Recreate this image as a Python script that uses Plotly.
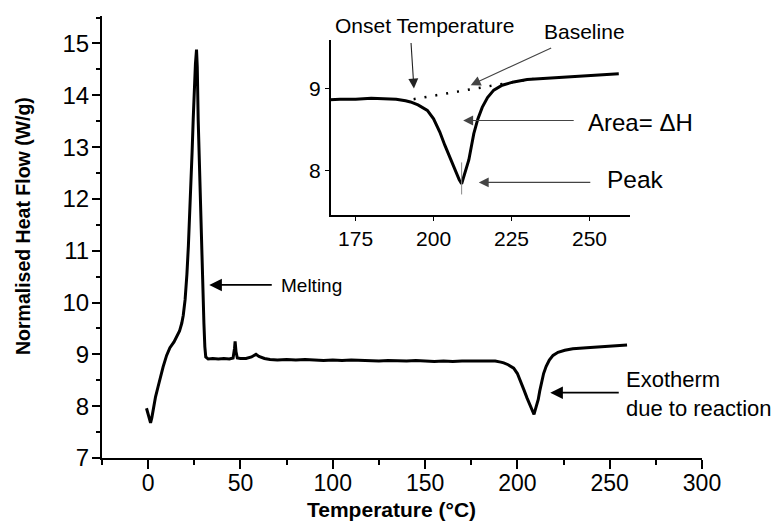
import plotly.graph_objects as go

# ---------------- data ----------------
temperature = [-0.9, 1.3, 2.0, 2.7, 4.0, 5.4, 6.8, 8.1, 10.0, 11.8, 14.0, 15.4, 17.0, 18.2, 19.0,
               20.0, 20.6, 21.0, 21.8, 22.5, 23.1, 23.8, 24.4, 25.0, 25.6, 26.2, 26.6, 27.1, 27.6, 28.0,
               28.8, 29.5, 30.2, 30.7, 31.2, 32.5, 35.0, 38.0, 41.0, 44.0, 46.0, 46.8, 47.1,
               47.6, 48.3, 50.0, 53.0, 56.0, 58.4, 60.0, 63.0, 66.0, 70.0, 75.0, 80.0, 85.0,
               90.0, 95.0, 100.0, 105.0, 110.0, 115.0, 120.0, 125.0, 130.0, 135.0, 140.0,
               145.0, 150.0, 155.0, 160.0, 165.0, 170.0, 175.0, 180.0, 184.1, 188.0, 191.0,
               192.6, 195.0, 198.0, 200.0, 202.0, 203.6, 205.2, 207.0, 208.2, 209.0, 209.6,
               210.4, 211.3, 212.1, 212.9, 214.2, 215.6, 217.3, 219.3, 222.0, 225.7, 230.0,
               237.5, 245.0, 252.0, 259.4]
heat_flow = [7.96, 7.68, 7.78, 7.93, 8.18, 8.38, 8.60, 8.76, 8.98, 9.13, 9.24, 9.33, 9.45, 9.6, 9.75,
             10.05, 10.3, 10.55, 11.1, 11.65, 12.24, 12.9, 13.53, 14.15, 14.6, 14.88, 14.55, 13.53, 12.8, 12.24,
             11.2, 10.31, 9.6, 9.15, 8.95, 8.91, 8.92, 8.91, 8.92, 8.91, 8.93, 9.12, 9.25,
             9.05, 8.93, 8.92, 8.92, 8.95, 9.0, 8.96, 8.92, 8.9, 8.89, 8.9, 8.89, 8.9,
             8.89, 8.88, 8.89, 8.88, 8.89, 8.88, 8.88, 8.87, 8.88, 8.87, 8.87,
             8.88, 8.87, 8.86, 8.87, 8.86, 8.87, 8.87, 8.88, 8.877, 8.87, 8.85,
             8.836, 8.80, 8.734, 8.63, 8.47, 8.31, 8.16, 7.99, 7.89, 7.84, 7.92,
             8.02, 8.13, 8.29, 8.45, 8.63, 8.77, 8.89, 8.98, 9.04, 9.08, 9.11,
             9.13, 9.15, 9.165, 9.18]

baseline_temp = [193.6, 232.0]
baseline_flow = [8.87, 9.12]
peak_temp = [209.0, 209.0]
peak_flow = [8.10, 7.71]

main_x_ticks = [0, 50, 100, 150, 200, 250, 300]
main_y_ticks = [7, 8, 9, 10, 11, 12, 13, 14, 15]
inset_x_ticks = [175, 200, 225, 250]
inset_y_ticks = [8, 9]

# ---------------- layout helpers ----------------
W, H = 771, 522
L, R, T, B = 102, 702, 16, 458


def px(xp):
    return (xp - L) / (R - L)


def py(yp):
    return (B - yp) / (B - T)


FONT = "Liberation Sans, Arial, sans-serif"

fig = go.Figure()
fig.add_trace(go.Scatter(x=temperature, y=heat_flow, mode="lines",
                         line=dict(color="black", width=3), xaxis="x", yaxis="y",
                         showlegend=False, hoverinfo="skip"))
fig.add_trace(go.Scatter(x=temperature, y=heat_flow, mode="lines",
                         line=dict(color="black", width=3), xaxis="x2", yaxis="y2",
                         showlegend=False, hoverinfo="skip"))
fig.add_trace(go.Scatter(x=baseline_temp, y=baseline_flow, mode="lines",
                         line=dict(color="black", width=2.5, dash="2px,9px"),
                         xaxis="x2", yaxis="y2", showlegend=False, hoverinfo="skip"))
fig.add_trace(go.Scatter(x=peak_temp, y=peak_flow, mode="lines",
                         line=dict(color="#888888", width=1),
                         xaxis="x2", yaxis="y2", showlegend=False, hoverinfo="skip"))

axis_common = dict(showgrid=False, zeroline=False, showline=True, linecolor="black",
                   ticks="outside", tickcolor="black", color="black")

fig.update_layout(
    width=W, height=H,
    margin=dict(l=L, r=W - R, t=T, b=H - B, pad=0),
    paper_bgcolor="white", plot_bgcolor="rgba(0,0,0,0)",
    font=dict(family=FONT, color="black", size=20),
    xaxis=dict(**axis_common, range=[-25, 300], domain=[0, 1], anchor="y",
               tickvals=main_x_ticks, linewidth=2, ticklen=9, tickwidth=1.5,
               minor=dict(dtick=25, tick0=0, ticks="outside", ticklen=5, tickcolor="black", tickwidth=1.5),
               tickfont=dict(size=23), ticklabelstandoff=-6),
    yaxis=dict(**axis_common, range=[7, 15.53], domain=[0, 1], anchor="x",
               tickvals=main_y_ticks, linewidth=2, ticklen=8, tickwidth=1.5,
               minor=dict(dtick=0.5, tick0=7, ticks="outside", ticklen=4, tickcolor="black", tickwidth=1.5),
               tickfont=dict(size=24), ticklabelstandoff=-2),
    xaxis2=dict(**axis_common, range=[167, 263], domain=[px(330.7), px(630)], anchor="y2",
                tickvals=inset_x_ticks, linewidth=1.5, ticklen=4, tickwidth=1.2,
                tickfont=dict(size=21)),
    yaxis2=dict(**axis_common, range=[7.46, 9.59], domain=[py(215), py(40)], anchor="x2",
                tickvals=inset_y_ticks, linewidth=1.5, ticklen=4, tickwidth=1.2,
                tickfont=dict(size=21)),
)

annotations = [
    # main arrows
    dict(x=33.1, y=10.34, xref="x", yref="y", ax=64, ay=0, text="", showarrow=True,
         arrowhead=2, arrowsize=1.4, arrowwidth=1.8, arrowcolor="black"),
    dict(x=217.8, y=8.26, xref="x", yref="y", ax=70, ay=0, text="", showarrow=True,
         arrowhead=2, arrowsize=1.4, arrowwidth=1.8, arrowcolor="black"),
    # inset arrows
    dict(x=193.7, y=9.0, xref="x2", yref="y2", ax=-3, ay=-47, text="", showarrow=True,
         arrowhead=2, arrowsize=1.8, arrowwidth=1.1, arrowcolor="#222222"),
    dict(x=211.9, y=9.04, xref="x2", yref="y2", ax=82, ay=-38, text="", showarrow=True,
         arrowhead=2, arrowsize=1.8, arrowwidth=1.1, arrowcolor="#444444"),
    dict(x=209.5, y=8.61, xref="x2", yref="y2", ax=112, ay=0, text="", showarrow=True,
         arrowhead=2, arrowsize=1.8, arrowwidth=1.1, arrowcolor="#444444"),
    dict(x=214.5, y=7.857, xref="x2", yref="y2", ax=113, ay=0, text="", showarrow=True,
         arrowhead=2, arrowsize=1.8, arrowwidth=1.1, arrowcolor="#444444"),
    # axis titles
    dict(x=px(391.5), y=py(509), xref="paper", yref="paper", text="<b>Temperature (°C)</b>",
         showarrow=False, xanchor="center", yanchor="middle", font=dict(size=21)),
    dict(x=px(22.5), y=py(226.5), xref="paper", yref="paper", text="<b>Normalised Heat Flow (W/g)</b>",
         showarrow=False, xanchor="center", yanchor="middle", textangle=-90, font=dict(size=19.5)),
    # texts
    dict(x=px(279), y=py(285), xref="paper", yref="paper", text="Melting", showarrow=False,
         xanchor="left", yanchor="middle", font=dict(size=19)),
    dict(x=px(624), y=py(394), xref="paper", yref="paper", text="Exotherm<br>due to reaction",
         showarrow=False, xanchor="left", yanchor="middle", align="left", font=dict(size=22)),
    dict(x=px(424), y=py(25), xref="paper", yref="paper", text="Onset Temperature", showarrow=False,
         xanchor="center", yanchor="middle", font=dict(size=21)),
    dict(x=px(584.5), y=py(32), xref="paper", yref="paper", text="Baseline", showarrow=False,
         xanchor="center", yanchor="middle", font=dict(size=21)),
    dict(x=px(586), y=py(122), xref="paper", yref="paper", text="Area= ΔH", showarrow=False,
         xanchor="left", yanchor="middle", font=dict(size=24)),
    dict(x=px(605), y=py(179), xref="paper", yref="paper", text="Peak", showarrow=False,
         xanchor="left", yanchor="middle", font=dict(size=24.5)),
]
fig.update_layout(annotations=annotations)

fig.write_html("out.html")
